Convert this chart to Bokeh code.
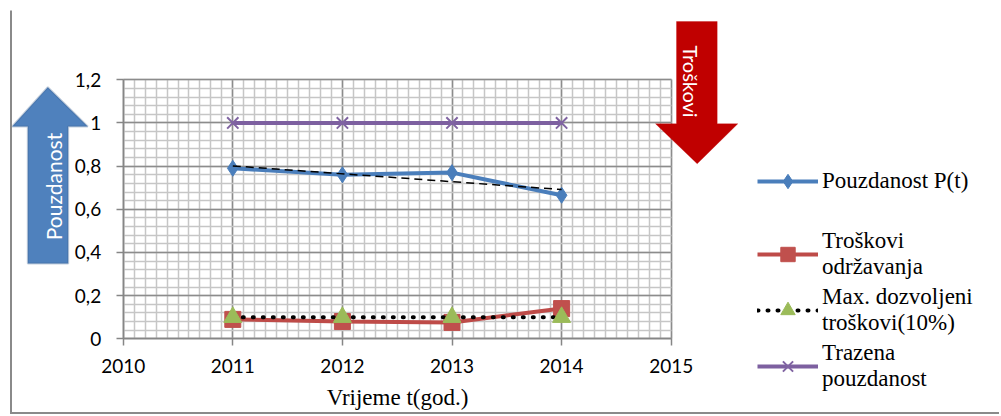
import math
import numpy as np
from bokeh.plotting import figure
from bokeh.models import (Range1d, FixedTicker, CustomJSTickFormatter, Legend, LegendItem,
                          PolyAnnotation, Label)
from bokeh.embed import file_html
from bokeh.resources import INLINE

# ---- data ----
years = [2011, 2012, 2013, 2014]
pouzdanost = [0.79, 0.76, 0.77, 0.665]
troskovi = [0.09, 0.08, 0.076, 0.14]
max_troskovi = [0.1, 0.1, 0.1, 0.1]
trazena = [1.0, 1.0, 1.0, 1.0]
x_ticks = [2010, 2011, 2012, 2013, 2014, 2015]
y_ticks = [0, 0.2, 0.4, 0.6, 0.8, 1.0, 1.2]
series_labels = ["Pouzdanost P(t)", "Troškovi\nodržavanja",
                 "Max. dozvoljeni\ntroškovi(10%)", "Trazena\npouzdanost"]

# linear trend of reliability (Excel trendline)
slope, intercept = np.polyfit(years, pouzdanost, 1)
trend_x = [years[0], years[-1]]
trend_y = [intercept + slope * x for x in trend_x]

# ---- layout: the frame covers the whole canvas; axes are pinned inside it ----
W, H = 999, 414
X0, X1 = 2010, 2015
Y0, Y1 = 0, 1.2
PX_L, PX_R, PX_T, PX_B = 122.7, 670.7, 79.3, 338.3   # plot-area edges (pixels)
kx = (PX_R - PX_L) / (X1 - X0)
ky = (PX_B - PX_T) / (Y1 - Y0)
x_range = Range1d(X0 - PX_L / kx, X1 + (W - PX_R) / kx)
y_range = Range1d(Y0 - (H - PX_B) / ky, Y1 + PX_T / ky)

p = figure(width=W, height=H, x_range=x_range, y_range=y_range, title=None,
           output_backend="svg", toolbar_location=None,
           min_border_left=0, min_border_right=0, min_border_top=0, min_border_bottom=0)
p.background_fill_color = "white"
p.border_fill_color = "white"
p.outline_line_color = None

p.xaxis.ticker = FixedTicker(ticks=x_ticks,
                             minor_ticks=[round(X0 + i * 0.1, 2) for i in range(51)])
p.yaxis.ticker = FixedTicker(ticks=y_ticks,
                             minor_ticks=[round(i * 0.04, 3) for i in range(31)])
p.yaxis.formatter = CustomJSTickFormatter(
    code="return (Math.round(tick*10)/10).toString().replace('.', ',');")
p.xaxis.fixed_location = Y0
p.yaxis.fixed_location = X0
p.xaxis.bounds = (X0, X1)
p.yaxis.bounds = (Y0, Y1)

for ax in (p.xaxis, p.yaxis):
    ax.axis_line_color = "#868686"
    ax.axis_line_width = 1.5
    ax.major_tick_line_color = "#868686"
    ax.major_tick_line_width = 1.5
    ax.major_tick_out = 7
    ax.major_tick_in = 0
    ax.minor_tick_line_color = None
    ax.major_label_text_font = "Lato"
    ax.major_label_text_font_size = "19px"
    ax.major_label_text_color = "black"
p.yaxis.major_label_standoff = 15
p.xaxis.major_label_standoff = 13
p.xaxis.axis_label = "Vrijeme t(god.)"
p.xaxis.axis_label_text_font = "Liberation Serif"
p.xaxis.axis_label_text_font_size = "23px"
p.xaxis.axis_label_text_font_style = "normal"
p.xaxis.axis_label_text_color = "black"
p.xaxis.axis_label_standoff = 9

p.xgrid.bounds = (X0, X1)
p.xgrid.cross_bounds = (Y0, Y1)
p.ygrid.bounds = (Y0, Y1)
p.ygrid.cross_bounds = (X0, X1)
for g in (p.xgrid, p.ygrid):
    g.grid_line_color = "#8c8c8c"
    g.grid_line_width = 1.5
    g.minor_grid_line_color = "#c6c6c6"
    g.minor_grid_line_width = 1.5

# ---- series ----
BLUE, RED, GREEN, PURPLE = "#4A7EBB", "#BE4B48", "#9BBB59", "#7D60A0"
b_line = p.line(years, pouzdanost, line_color=BLUE, line_width=4)
b_mark = p.scatter(years, pouzdanost, marker="diamond", size=16,
                   fill_color=BLUE, line_color=BLUE)
r_line = p.line(years, troskovi, line_color=RED, line_width=4)
r_mark = p.scatter(years, troskovi, marker="square", size=16, fill_color="#C0504D",
                   line_color="#C0504D")
m_line = p.line(years, max_troskovi, line_color="black", line_width=4,
                line_dash="1 9", line_cap="round")
m_mark = p.scatter(years, max_troskovi, marker="triangle", size=18, fill_color=GREEN,
                   line_color=GREEN)
t_line = p.line(years, trazena, line_color=PURPLE, line_width=4)
t_mark = p.scatter(years, trazena, marker="x", size=16, line_color="#8064A2", line_width=2)
p.line(trend_x, trend_y, line_color="black", line_width=1.5, line_dash="8 5")

# ---- legends, one per entry (screen units: from bottom-left of the canvas) ----
GLYPH_H = 36
ITEM2_H = 51   # effective height of a two-line entry

def make_legend(label, renderers, left, bottom, line_height):
    leg = Legend(items=[LegendItem(label=label, renderers=renderers)],
                 location=(left, H - bottom))
    leg.border_line_color = None
    leg.background_fill_alpha = 0
    leg.padding = 0
    leg.margin = 0
    leg.spacing = 0
    leg.glyph_width = 61
    leg.glyph_height = GLYPH_H
    leg.label_standoff = 4
    leg.label_height = 20
    leg.label_text_font = "Liberation Serif"
    leg.label_text_font_size = "23px"
    leg.label_text_line_height = line_height
    leg.label_text_color = "black"
    return leg

entries = [(series_labels[0], [b_line, b_mark], 181 + GLYPH_H / 2),
           (series_labels[1], [r_line, r_mark], 254 + ITEM2_H / 2),
           (series_labels[2], [m_line, m_mark], 310 + ITEM2_H / 2),
           (series_labels[3], [t_line, t_mark], 366 + ITEM2_H / 2)]
for lab, rends, bottom in entries:
    p.add_layout(make_legend(lab, rends, 757, bottom, 1.75))

# ---- decorative arrows (pixel coords, top-left origin) ----
def sy(v):
    return [H - y for y in v]

up_x = [47.3, 87.3, 67.7, 67.7, 27.3, 27.3, 11.7]
up_y = [86.7, 126, 126, 263, 263, 126, 126]
p.add_layout(PolyAnnotation(xs=up_x, ys=sy(up_y), xs_units="screen", ys_units="screen",
                            fill_color="#4F81BD", fill_alpha=1, line_color="#385D8A",
                            line_width=2))
dn_x = [676, 716.7, 716.7, 737.3, 696.7, 655, 676]
dn_y = [21, 21, 123.3, 123.3, 163.3, 123.3, 123.3]
p.add_layout(PolyAnnotation(xs=dn_x, ys=sy(dn_y), xs_units="screen", ys_units="screen",
                            fill_color="#C00000", fill_alpha=1, line_color="#C00000",
                            line_width=1))
p.add_layout(Label(x=53, y=H - 186, x_units="screen", y_units="screen",
                   text="Pouzdanost", angle=math.pi / 2, text_align="center",
                   text_baseline="middle", text_font="Lato", text_font_size="21px",
                   text_color="white"))
p.add_layout(Label(x=690, y=H - 81, x_units="screen", y_units="screen",
                   text="Troškovi", angle=-math.pi / 2, text_align="center",
                   text_baseline="middle", text_font="Lato", text_font_size="20px",
                   text_color="white"))
# outer chart border (left and bottom edges)
p.add_layout(PolyAnnotation(xs=[9.5, 11.5, 11.5, 9.5], ys=sy([10, 10, 414, 414]),
                            xs_units="screen", ys_units="screen",
                            fill_color="#8a8a8a", fill_alpha=1, line_color=None))
p.add_layout(PolyAnnotation(xs=[9.5, 999, 999, 9.5], ys=sy([411.5, 411.5, 413.5, 413.5]),
                            xs_units="screen", ys_units="screen",
                            fill_color="#8a8a8a", fill_alpha=1, line_color=None))

open("out.html", "w").write(file_html(p, INLINE))
